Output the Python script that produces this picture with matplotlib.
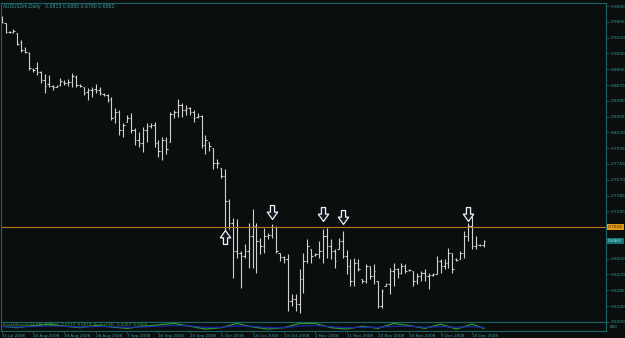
import numpy as np
import matplotlib
matplotlib.use("Agg")
import matplotlib.pyplot as plt
from matplotlib.transforms import blended_transform_factory

# ---------------- data ----------------
highs = [0.9473,0.9392,0.9298,0.9322,0.9275,0.9193,0.9112,0.9053,0.8867,0.8937,
         0.8832,0.8797,0.8785,0.8668,0.8668,0.8750,0.8727,0.8738,0.8808,0.8785,
         0.8680,0.8645,0.8633,0.8645,0.8680,0.8645,0.8575,0.8563,0.8528,0.8400,
         0.8377,0.8225,0.8319,0.8342,0.8167,0.8120,0.8179,0.8225,0.8225,0.8237,
         0.8027,0.8062,0.8062,0.8354,0.8377,0.8505,0.8459,0.8435,0.8412,0.8377,
         0.8342,0.8319,0.8085,0.8004,0.7934,0.7817,0.7712,0.7700,0.7350,0.7129,
         0.7117,0.6744,0.6825,0.7070,0.7234,0.7070,0.6895,0.7012,0.6954,0.7059,
         0.7035,0.6720,0.6685,0.6709,0.6242,0.6242,0.6534,0.6720,0.6884,0.6767,
         0.6720,0.6860,0.7000,0.7012,0.6884,0.6767,0.6895,0.6977,0.6755,0.6650,
         0.6662,0.6650,0.6417,0.6592,0.6569,0.6592,0.6394,0.6300,0.6370,0.6545,
         0.6604,0.6545,0.6604,0.6592,0.6534,0.6510,0.6487,0.6510,0.6534,0.6487,
         0.6487,0.6685,0.6650,0.6650,0.6779,0.6720,0.6662,0.6744,0.6977,0.7070,
         0.7152,0.6919,0.6825,0.6865]
lows = [0.9392,0.9275,0.9275,0.9275,0.9135,0.9053,0.9042,0.8843,0.8820,0.8785,
        0.8692,0.8575,0.8645,0.8610,0.8645,0.8657,0.8668,0.8657,0.8645,0.8645,
        0.8645,0.8552,0.8494,0.8528,0.8575,0.8552,0.8540,0.8470,0.8260,0.8225,
        0.8085,0.8062,0.8237,0.8109,0.7969,0.7945,0.7887,0.8004,0.8167,0.7945,
        0.7829,0.7794,0.7875,0.8004,0.8284,0.8295,0.8295,0.8319,0.8319,0.8237,
        0.8284,0.7934,0.7875,0.7910,0.7700,0.7712,0.7595,0.6977,0.7000,0.6429,
        0.6662,0.6312,0.6662,0.6545,0.6545,0.6487,0.6709,0.6720,0.6884,0.6895,
        0.6720,0.6627,0.6604,0.6044,0.6102,0.6044,0.6021,0.6254,0.6604,0.6604,
        0.6685,0.6662,0.6604,0.6662,0.6650,0.6545,0.6767,0.6662,0.6475,0.6335,
        0.6335,0.6510,0.6370,0.6370,0.6417,0.6359,0.6079,0.6079,0.6335,0.6242,
        0.6335,0.6429,0.6475,0.6487,0.6510,0.6335,0.6359,0.6394,0.6394,0.6300,
        0.6452,0.6475,0.6487,0.6534,0.6545,0.6487,0.6627,0.6650,0.6662,0.6860,
        0.6767,0.6767,0.6802,0.6790]
opens = [0.9450,0.9392,0.9287,0.9287,0.9275,0.9170,0.9077,0.9042,0.8855,0.8867,
         0.8820,0.8727,0.8680,0.8657,0.8645,0.8668,0.8703,0.8692,0.8703,0.8762,
         0.8668,0.8645,0.8587,0.8610,0.8622,0.8610,0.8563,0.8552,0.8505,0.8295,
         0.8354,0.8144,0.8237,0.8284,0.8144,0.8027,0.7992,0.8144,0.8190,0.8202,
         0.7992,0.7910,0.8027,0.8004,0.8330,0.8354,0.8435,0.8377,0.8400,0.8354,
         0.8295,0.8307,0.7969,0.8004,0.7934,0.7759,0.7712,0.7619,0.7327,0.7070,
         0.6744,0.6720,0.6685,0.6744,0.6919,0.7035,0.6860,0.6802,0.6919,0.6930,
         0.7024,0.6720,0.6674,0.6650,0.6161,0.6184,0.6126,0.6417,0.6627,0.6767,
         0.6697,0.6709,0.6744,0.6919,0.6802,0.6744,0.6767,0.6860,0.6685,0.6569,
         0.6394,0.6604,0.6417,0.6394,0.6569,0.6452,0.6394,0.6102,0.6335,0.6359,
         0.6510,0.6534,0.6487,0.6569,0.6522,0.6510,0.6394,0.6452,0.6487,0.6452,
         0.6464,0.6475,0.6627,0.6569,0.6604,0.6720,0.6650,0.6650,0.6720,0.6919,
         0.7035,0.6802,0.6814,0.6813]
closes = [0.9403,0.9287,0.9287,0.9298,0.9147,0.9077,0.9053,0.8867,0.8843,0.8820,
          0.8727,0.8657,0.8657,0.8645,0.8657,0.8715,0.8692,0.8703,0.8773,0.8668,
          0.8657,0.8575,0.8610,0.8610,0.8610,0.8575,0.8552,0.8494,0.8284,0.8354,
          0.8144,0.8202,0.8284,0.8144,0.8027,0.7992,0.8144,0.8190,0.8202,0.7992,
          0.7910,0.8027,0.7922,0.8330,0.8354,0.8435,0.8377,0.8400,0.8354,0.8284,
          0.8307,0.7969,0.8027,0.7957,0.7759,0.7770,0.7619,0.7327,0.7070,0.6744,
          0.6720,0.6685,0.6744,0.6919,0.7035,0.6860,0.6802,0.6919,0.6930,0.7024,
          0.6744,0.6674,0.6650,0.6161,0.6184,0.6126,0.6417,0.6627,0.6802,0.6685,
          0.6709,0.6744,0.6919,0.6802,0.6744,0.6627,0.6860,0.6685,0.6569,0.6394,
          0.6604,0.6534,0.6394,0.6569,0.6452,0.6510,0.6102,0.6277,0.6359,0.6510,
          0.6534,0.6487,0.6569,0.6510,0.6522,0.6394,0.6452,0.6487,0.6452,0.6464,
          0.6475,0.6627,0.6569,0.6604,0.6720,0.6534,0.6639,0.6720,0.6919,0.7035,
          0.6802,0.6825,0.6814,0.6862]

level_price = 0.7018
last_price = 0.6862

price_ticks = [0.9590, 0.9405, 0.9220, 0.9040, 0.8856, 0.8670, 0.8490, 0.8305,
               0.8120, 0.7935, 0.7755, 0.7570, 0.7385, 0.7205, 0.6650, 0.6470,
               0.6285, 0.6100, 0.5920]
date_tick_bars = [0, 8, 16, 24, 32, 40, 48, 56, 64, 72, 80, 88, 96, 104, 112, 120]
date_labels = ["31 Jul 2008", "10 Aug 2008", "19 Aug 2008", "28 Aug 2008",
               "7 Sep 2008", "16 Sep 2008", "25 Sep 2008", "5 Oct 2008",
               "14 Oct 2008", "23 Oct 2008", "2 Nov 2008", "11 Nov 2008",
               "20 Nov 2008", "30 Nov 2008", "9 Dec 2008", "18 Dec 2008"]

up_arrow_bars = [57]
up_arrow_prices = [0.6901]
down_arrow_bars = [69, 82, 87, 119]
down_arrow_prices = [0.7193, 0.7169, 0.7135, 0.7169]

ind_bars = [0, 4, 8, 12, 16, 20, 24, 28, 32, 36, 40, 44, 48, 52, 56, 60,
            64, 68, 72, 76, 80, 84, 88, 92, 96, 100, 104, 108, 112, 116, 120, 123]
ind_green = [0.5, 0.3, 0.6, 0.8, 0.5, 0.3, 0.6, 0.4, 0.2, 0.5, 0.7, 0.9, 0.5, 0.1, 0.3, 0.9,
             0.4, 0.1, 0.3, 0.9, 0.9, 0.3, 0.1, 0.5, 0.2, 0.9, 0.6, 0.2, 0.8, 0.1, 0.8, 0.2]
ind_blue = [0.45, 0.4, 0.45, 0.55, 0.5, 0.4, 0.45, 0.45, 0.35, 0.4, 0.5, 0.6, 0.55, 0.35, 0.35, 0.55,
            0.5, 0.3, 0.3, 0.55, 0.6, 0.45, 0.3, 0.35, 0.35, 0.5, 0.5, 0.35, 0.45, 0.35, 0.45, 0.35]

# ---------------- style ----------------
BG = "#0b0e0e"
AX = "#1d6464"
TXT = "#3a9c9c"
BAR = "#d2d2d2"

W, H = 625, 338
fig = plt.figure(figsize=(W / 100, H / 100), dpi=100, facecolor=BG)

x_left, x_right = 1, 606
main_top, main_bot = 3, 322
ind_top, ind_bot = 322, 330.5

ax = fig.add_axes([x_left / W, 1 - main_bot / H, (x_right - x_left) / W, (main_bot - main_top) / H])
ax2 = fig.add_axes([x_left / W, 1 - ind_bot / H, (x_right - x_left) / W, (ind_bot - ind_top) / H])

for a in (ax, ax2):
    a.set_facecolor(BG)
    for s in a.spines.values():
        s.set_color(AX)
        s.set_linewidth(0.8)

n = len(highs)
xs = np.arange(n)
xlim = (-0.18, 154.2)

# OHLC bars
ax.vlines(xs, lows, highs, color=BAR, linewidth=0.8)
ax.hlines(opens, xs - 0.38, xs, color=BAR, linewidth=0.8)
ax.hlines(closes, xs, xs + 0.38, color=BAR, linewidth=0.8)

# horizontal level
ax.axhline(level_price, color="#b5771a", linewidth=0.8)

# arrows
down_path = [(-0.3, 1), (0.3, 1), (0.3, 0.05), (0.75, 0.05), (0, -1),
             (-0.75, 0.05), (-0.3, 0.05), (-0.3, 1)]
up_path = [(x, -y) for x, y in down_path]
ax.plot(down_arrow_bars, down_arrow_prices, linestyle="none", marker=down_path,
        markersize=10, markerfacecolor="#101a24", markeredgecolor="#f2f2f2",
        markeredgewidth=0.9)
ax.plot(up_arrow_bars, up_arrow_prices, linestyle="none", marker=up_path,
        markersize=10, markerfacecolor="#101a24", markeredgecolor="#f2f2f2",
        markeredgewidth=0.9)

ax.set_xlim(*xlim)
ax.set_ylim(0.5916, 0.9625)
ax.yaxis.tick_right()
ax.set_yticks(price_ticks)
ax.set_yticklabels([f"{v:.4f}" for v in price_ticks])
ax.tick_params(axis="y", colors=AX, labelcolor=TXT, labelsize=3.1, length=2,
               width=0.6, pad=1.2)
ax.set_xticks([])

# price boxes on right axis
tr = blended_transform_factory(ax.transAxes, ax.transData)
ax.text(1.003, level_price, f"{level_price:.4f}", transform=tr, fontsize=3.1,
        color="#3a2800", va="center", ha="left", clip_on=False,
        bbox=dict(boxstyle="square,pad=0.25", fc="#e09a18", ec="none"))
ax.text(1.003, last_price, f"{last_price:.4f}", transform=tr, fontsize=3.1,
        color="#a8e6e6", va="center", ha="left", clip_on=False,
        bbox=dict(boxstyle="square,pad=0.25", fc="#137272", ec="none"))

# title
ax.text(0.004, 0.997, "AUDUSDm,Daily   0.6813 0.6865 0.6790 0.6862",
        transform=ax.transAxes, fontsize=3.3, color=TXT, va="top", ha="left")

# indicator panel
ax2.plot(ind_bars, ind_green, color="#2e9a2e", linewidth=0.9)
ax2.plot(ind_bars, ind_blue, color="#1a2aa8", linewidth=0.9)
ax2.set_xlim(*xlim)
ax2.set_ylim(-0.1, 1.1)
ax2.set_yticks([])
ax2.text(0.003, 0.85, "SnakeBands(21,34)  0.0016  0.0013  0.0010  Snake(34) -0.0003  0.0000",
         transform=ax2.transAxes, fontsize=2.9, color="#3aa83a", va="top", ha="left")
ax2.text(1.006, 0.45, "800", transform=ax2.transAxes, fontsize=3.0, color=TXT,
         va="center", ha="left")
ax2.set_xticks(date_tick_bars)
ax2.set_xticklabels(date_labels, ha="left")
ax2.tick_params(axis="x", colors=AX, labelcolor=TXT, labelsize=3.0, length=1.5,
                width=0.6, pad=1)

fig.savefig("out.png", dpi=100, facecolor=BG)
